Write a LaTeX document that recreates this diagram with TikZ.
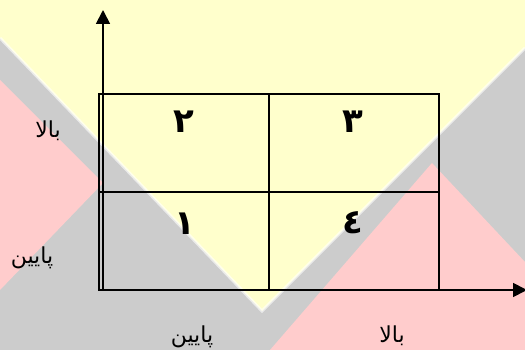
\documentclass[tikz,border=0pt]{standalone}
\usepackage{fontspec}
\newfontfamily\arabicfont[Script=Arabic]{DejaVu Sans}
\TeXXeTstate=1
\usetikzlibrary{arrows.meta}
\definecolor{bgyellow}{RGB}{255,255,204}
\definecolor{bgpink}{RGB}{255,204,204}
\definecolor{bggray}{RGB}{204,204,204}
\tikzset{
  axis/.style={line width=1.8pt,-{Triangle[length=14pt,width=14pt]}},
  cell/.style={draw,line width=1.3pt,minimum width=170pt,minimum height=98pt,inner sep=0pt},
  digit/.style={font=\arabicfont\bfseries\fontsize{34}{40}\selectfont,inner sep=0pt},
  lbl/.style={font=\arabicfont\fontsize{22}{26}\selectfont,inner sep=0pt},
  glow/.style={white,line width=3pt,opacity=0.6}
}
\begin{document}
\begin{tikzpicture}[x=1pt,y=-1pt]
\useasboundingbox (0,0) rectangle (525,350);
\begin{scope}
  \clip (0,0) rectangle (525,350);
  \fill[bggray] (0,0) rectangle (525,350);
  \fill[bgyellow] (0,0) -- (525,0) -- (525,48) -- (262,311) -- (0,38) -- cycle;
  \fill[bgpink] (0,80) -- (103,183) -- (0,290) -- cycle;
  \fill[bgpink] (270,350) -- (432,163) -- (525,262) -- (525,350) -- cycle;
  \draw[glow] (0,38) -- (262,311) -- (525,48);
\end{scope}
% cells
\node[cell] (c2) at (184,143) {};
\node[cell] (c3) at (354,143) {};
\node[cell] (c1) at (184,241) {};
\node[cell] (c4) at (354,241) {};
% axes
\coordinate (O) at (103,290);
\coordinate (Ytip) at (103,10);
\coordinate (Xstart) at (99,290);
\coordinate (Xtip) at (527,290);
\draw[axis] (O) -- (Ytip);
\draw[axis] (Xstart) -- (Xtip);
% digits
\node[digit] (d2) at (184,122) {\beginR ٢\endR};
\node[digit] (d3) at (353,122) {\beginR ٣\endR};
\node[digit] (d1) at (185,224) {\beginR ١\endR};
\node[digit] (d4) at (353,223) {\beginR ٤\endR};
% axis labels
\node[lbl] (yhigh) at (48,131) {\beginR بالا\endR};
\node[lbl] (ylow) at (32,258) {\beginR پایین\endR};
\node[lbl] (xlow) at (192,337) {\beginR پایین\endR};
\node[lbl] (xhigh) at (392,336) {\beginR بالا\endR};
\end{tikzpicture}
\end{document}
